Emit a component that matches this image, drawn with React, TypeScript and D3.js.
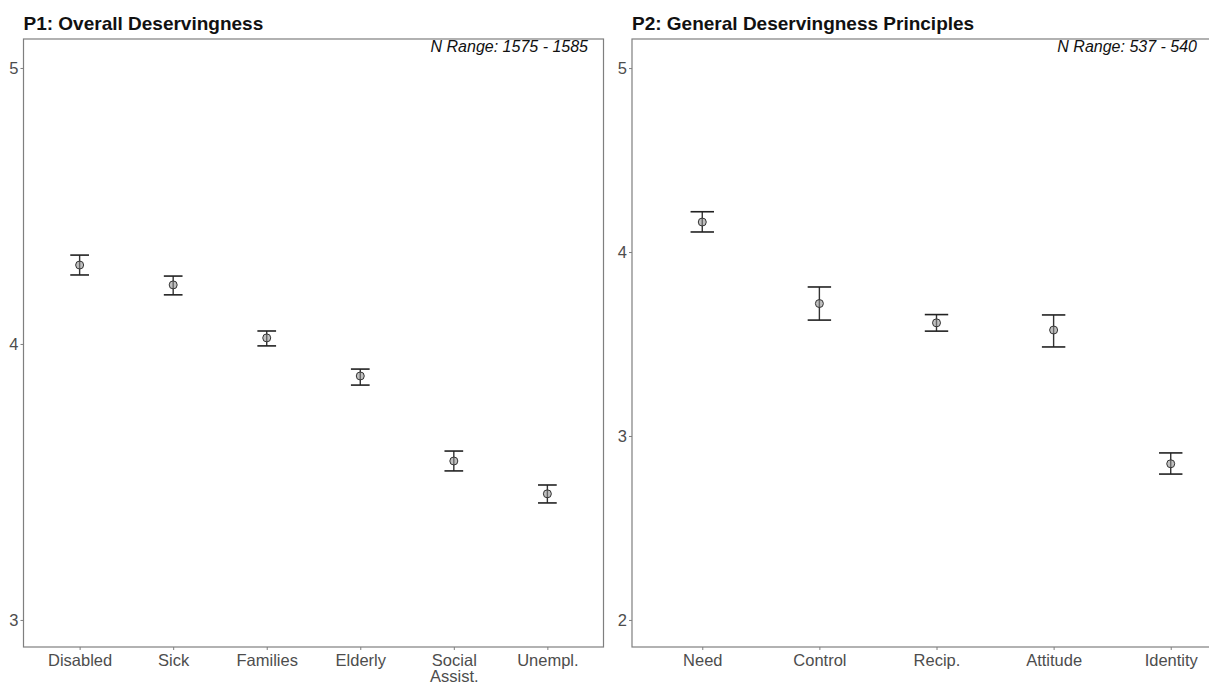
import React, { useEffect, useRef } from 'react';
import * as d3 from 'd3';

// Panel 1 data
const p1Categories = ['Disabled', 'Sick', 'Families', 'Elderly', 'Social\nAssist.', 'Unempl.'];
const p1Means = [4.286, 4.214, 4.022, 3.884, 3.576, 3.457];
const p1Lower = [4.25, 4.178, 3.993, 3.851, 3.54, 3.424];
const p1Upper = [4.322, 4.246, 4.047, 3.909, 3.612, 3.489];
const p1Ticks = [3, 4, 5];

// Panel 2 data
const p2Categories = ['Need', 'Control', 'Recip.', 'Attitude', 'Identity'];
const p2Means = [4.163, 3.72, 3.615, 3.576, 2.849];
const p2Lower = [4.109, 3.63, 3.57, 3.484, 2.793];
const p2Upper = [4.219, 3.81, 3.66, 3.658, 2.908];
const p2Ticks = [2, 3, 4, 5];

const FONT = "'Liberation Sans', Arial, sans-serif";

function drawPanel(svg, opts) {
  const {
    left, right, top, bottom, yDomain, categories, means, lower, upper, ticks, title, note, noteX,
  } = opts;

  const g = svg.append('g');

  const x = d3.scalePoint()
    .domain(categories)
    .range([left, right])
    .padding(0.6);
  const y = d3.scaleLinear()
    .domain(yDomain)
    .range([bottom, top]);

  // panel border
  g.append('rect')
    .attr('x', left)
    .attr('y', top)
    .attr('width', right - left)
    .attr('height', bottom - top)
    .attr('fill', 'none')
    .attr('stroke', '#7f7f7f')
    .attr('stroke-width', 1.2);

  // y axis
  const yAxis = g.append('g')
    .attr('transform', `translate(${left},0)`)
    .call(d3.axisLeft(y).tickValues(ticks).tickFormat(d3.format('d')).tickSize(3).tickPadding(2));
  yAxis.select('.domain').remove();
  yAxis.selectAll('line').attr('stroke', '#7f7f7f');
  yAxis.selectAll('text')
    .attr('fill', '#4d4d4d')
    .style('font-family', FONT)
    .style('font-size', '16.5px');

  // x axis
  const xAxis = g.append('g')
    .attr('transform', `translate(0,${bottom})`)
    .call(d3.axisBottom(x).tickSize(3).tickFormat(() => ''));
  xAxis.select('.domain').remove();
  xAxis.selectAll('line').attr('stroke', '#7f7f7f');
  xAxis.selectAll('.tick').each(function (d) {
    const lines = String(d).split('\n');
    const t = d3.select(this).append('text')
      .attr('text-anchor', 'middle')
      .attr('fill', '#4d4d4d')
      .style('font-family', FONT)
      .style('font-size', '16.5px');
    lines.forEach((ln, i) => {
      t.append('tspan')
        .attr('x', 0)
        .attr('y', 19 + i * 16)
        .text(ln);
    });
  });

  const step = x.step();
  const capW = step * 0.2;

  const rows = categories.map((c, i) => ({
    c, m: means[i], lo: lower[i], hi: upper[i],
  }));

  const bars = g.append('g').selectAll('g')
    .data(rows)
    .enter()
    .append('g');

  bars.append('line')
    .attr('x1', (d) => x(d.c))
    .attr('x2', (d) => x(d.c))
    .attr('y1', (d) => y(d.lo))
    .attr('y2', (d) => y(d.hi))
    .attr('stroke', '#333')
    .attr('stroke-width', 1.4);
  bars.append('line')
    .attr('x1', (d) => x(d.c) - capW / 2)
    .attr('x2', (d) => x(d.c) + capW / 2)
    .attr('y1', (d) => y(d.hi))
    .attr('y2', (d) => y(d.hi))
    .attr('stroke', '#222')
    .attr('stroke-width', 1.6);
  bars.append('line')
    .attr('x1', (d) => x(d.c) - capW / 2)
    .attr('x2', (d) => x(d.c) + capW / 2)
    .attr('y1', (d) => y(d.lo))
    .attr('y2', (d) => y(d.lo))
    .attr('stroke', '#222')
    .attr('stroke-width', 1.6);
  bars.append('circle')
    .attr('cx', (d) => x(d.c))
    .attr('cy', (d) => y(d.m))
    .attr('r', 4)
    .attr('fill', 'rgba(140,140,140,0.55)')
    .attr('stroke', '#333')
    .attr('stroke-width', 1);

  // title
  svg.append('text')
    .attr('x', left)
    .attr('y', 30)
    .style('font-family', FONT)
    .style('font-size', '19px')
    .style('font-weight', 'bold')
    .attr('fill', '#111')
    .text(title);

  // N range note
  svg.append('text')
    .attr('x', noteX)
    .attr('y', 52)
    .attr('text-anchor', 'end')
    .style('font-family', FONT)
    .style('font-size', '16px')
    .style('font-style', 'italic')
    .attr('fill', '#111')
    .text(note);
}

export default function App() {
  const ref = useRef(null);

  useEffect(() => {
    const svg = d3.select(ref.current);
    svg.selectAll('*').remove();
    svg.append('rect').attr('width', 1209).attr('height', 687).attr('fill', '#fff');

    drawPanel(svg, {
      left: 23.5,
      right: 603.5,
      top: 39,
      bottom: 647,
      yDomain: [2.902, 5.105],
      categories: p1Categories,
      means: p1Means,
      lower: p1Lower,
      upper: p1Upper,
      ticks: p1Ticks,
      title: 'P1: Overall Deservingness',
      note: 'N Range: 1575 - 1585',
      noteX: 588,
    });

    drawPanel(svg, {
      left: 632,
      right: 1241,
      top: 39,
      bottom: 647,
      yDomain: [1.853, 5.158],
      categories: p2Categories,
      means: p2Means,
      lower: p2Lower,
      upper: p2Upper,
      ticks: p2Ticks,
      title: 'P2: General Deservingness Principles',
      note: 'N Range: 537 - 540',
      noteX: 1197,
    });
  }, []);

  return (
    <svg
      ref={ref}
      width={1209}
      height={687}
      style={{ position: 'absolute', left: 0, top: 0 }}
    />
  );
}
